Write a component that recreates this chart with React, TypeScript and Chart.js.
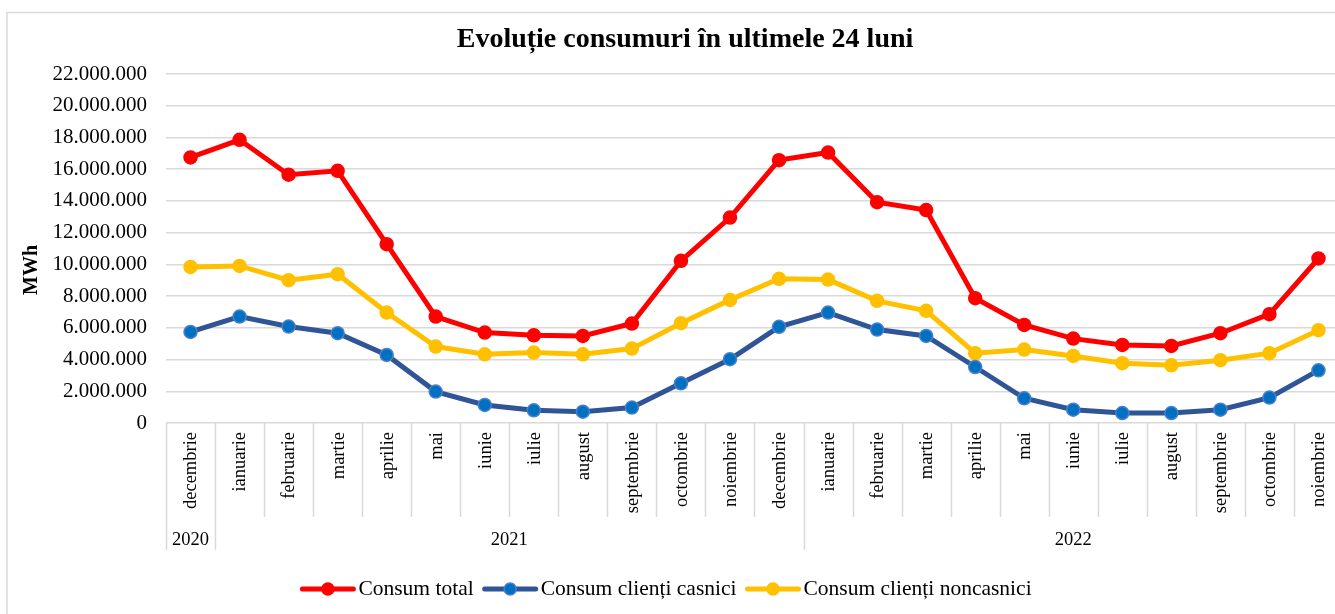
import React, { useEffect, useRef } from "react";
import { Chart, registerables } from "chart.js";

Chart.register(...registerables);

const months: string[] = [
  "decembrie", "ianuarie", "februarie", "martie", "aprilie", "mai", "iunie", "iulie",
  "august", "septembrie", "octombrie", "noiembrie", "decembrie", "ianuarie", "februarie",
  "martie", "aprilie", "mai", "iunie", "iulie", "august", "septembrie", "octombrie", "noiembrie",
];
const yearLabels: string[] = ["2020", "2021", "2022"];
const yearSpans: number[] = [1, 12, 11];

const consumTotal: number[] = [
  16740000, 17850000, 15650000, 15900000, 11270000, 6710000, 5700000, 5530000,
  5490000, 6270000, 10220000, 12950000, 16570000, 17050000, 13920000, 13420000,
  7870000, 6180000, 5320000, 4920000, 4860000, 5660000, 6860000, 10370000,
];
const consumCasnici: number[] = [
  5740000, 6710000, 6080000, 5660000, 4290000, 1980000, 1140000, 800000,
  710000, 970000, 2500000, 4020000, 6060000, 6960000, 5890000, 5490000,
  3530000, 1560000, 840000, 630000, 630000, 840000, 1600000, 3320000,
];
const consumNoncasnici: number[] = [
  9840000, 9900000, 9000000, 9380000, 6960000, 4820000, 4330000, 4440000,
  4330000, 4690000, 6290000, 7760000, 9090000, 9040000, 7700000, 7070000,
  4400000, 4630000, 4230000, 3770000, 3640000, 3960000, 4400000, 5850000,
];

const seriesNames: string[] = ["Consum total", "Consum clienți casnici", "Consum clienți noncasnici"];

const yMax = 22000000;
const yStep = 2000000;

const SERIF = "'Liberation Serif', 'Times New Roman', serif";
const GRID = "#d9d9d9";

function fmt(v: number): string {
  return Math.round(v).toString().replace(/\B(?=(\d{3})+(?!\d))/g, ".");
}

const decorPlugin = {
  id: "decor",
  beforeDraw(chart: any) {
    const ctx = chart.ctx;
    ctx.save();
    ctx.fillStyle = "#ffffff";
    ctx.fillRect(0, 0, chart.width, chart.height);
    ctx.strokeStyle = GRID;
    ctx.lineWidth = 1.5;
    ctx.strokeRect(7, 12.5, chart.width + 50, chart.height + 50);
    ctx.restore();
  },
  afterDraw(chart: any) {
    const ctx = chart.ctx;
    const xs = chart.scales.x;
    const area = chart.chartArea;
    const n = months.length;
    const bottom = area.bottom;
    const cw = (xs.getPixelForValue(1) - xs.getPixelForValue(0));
    const boundary = (i: number) => xs.getPixelForValue(0) - cw / 2 + i * cw;

    ctx.save();
    // title
    ctx.fillStyle = "#000";
    ctx.font = `bold 28px ${SERIF}`;
    ctx.textAlign = "center";
    ctx.textBaseline = "alphabetic";
    ctx.fillText("Evoluție consumuri în ultimele 24 luni", 685, 47);

    // y axis title
    ctx.save();
    ctx.translate(32, 270);
    ctx.rotate(-Math.PI / 2);
    ctx.font = `bold 20px ${SERIF}`;
    ctx.textAlign = "center";
    ctx.textBaseline = "middle";
    ctx.fillText("MWh", 0, 0);
    ctx.restore();

    // separators
    const yearBounds = new Set<number>();
    let acc = 0;
    yearBounds.add(0);
    yearSpans.forEach((s) => { acc += s; yearBounds.add(acc); });
    ctx.strokeStyle = GRID;
    ctx.lineWidth = 1.5;
    for (let i = 0; i <= n; i++) {
      const x = Math.round(boundary(i)) + 0.5;
      ctx.beginPath();
      ctx.moveTo(x, bottom);
      ctx.lineTo(x, yearBounds.has(i) ? 550 : 517);
      ctx.stroke();
    }

    // month labels
    ctx.fillStyle = "#000";
    ctx.font = `18.5px ${SERIF}`;
    for (let i = 0; i < n; i++) {
      const x = xs.getPixelForValue(i);
      ctx.save();
      ctx.translate(x + 1, 432);
      ctx.rotate(-Math.PI / 2);
      ctx.textAlign = "right";
      ctx.textBaseline = "middle";
      ctx.fillText(months[i], 0, 0);
      ctx.restore();
    }

    // year labels
    ctx.textAlign = "center";
    ctx.textBaseline = "alphabetic";
    acc = 0;
    yearLabels.forEach((lab, k) => {
      const x0 = boundary(acc);
      const x1 = boundary(acc + yearSpans[k]);
      ctx.fillText(lab, (x0 + x1) / 2, 545);
      acc += yearSpans[k];
    });

    // legend
    ctx.font = `21.5px ${SERIF}`;
    const lineLen = 55;
    const textGap = 3;
    const itemGap = 9;
    const widths = chart.data.datasets.map((d: any) => lineLen + textGap + ctx.measureText(d.label).width);
    const total = widths.reduce((a: number, b: number) => a + b, 0) + itemGap * (widths.length - 1);
    let lx = 666 - total / 2;
    const ly = 589;
    chart.data.datasets.forEach((d: any, k: number) => {
      ctx.strokeStyle = d.borderColor;
      ctx.lineWidth = 5;
      ctx.lineCap = "round";
      ctx.beginPath();
      ctx.moveTo(lx + 2, ly);
      ctx.lineTo(lx + lineLen - 2, ly);
      ctx.stroke();
      ctx.beginPath();
      ctx.arc(lx + lineLen / 2, ly, 6, 0, Math.PI * 2);
      ctx.fillStyle = d.pointBackgroundColor;
      ctx.fill();
      ctx.lineWidth = 1.5;
      ctx.strokeStyle = d.pointBorderColor;
      ctx.stroke();
      ctx.fillStyle = "#000";
      ctx.textAlign = "left";
      ctx.textBaseline = "middle";
      ctx.fillText(d.label, lx + lineLen + textGap, ly);
      lx += widths[k] + itemGap;
    });
    ctx.restore();
  },
};

export default function App() {
  const ref = useRef<HTMLCanvasElement | null>(null);

  useEffect(() => {
    if (!ref.current) return;
    const chart = new Chart(ref.current, {
      type: "line",
      data: {
        labels: months,
        datasets: [
          {
            label: seriesNames[0],
            data: consumTotal,
            borderColor: "#ff0000",
            backgroundColor: "#ff0000",
            pointBackgroundColor: "#ff0000",
            pointBorderColor: "#ff0000",
            borderWidth: 5,
            pointRadius: 6.5,
            pointBorderWidth: 1.5,
            tension: 0,
          },
          {
            label: seriesNames[1],
            data: consumCasnici,
            borderColor: "#2f5597",
            backgroundColor: "#2f5597",
            pointBackgroundColor: "#0070c0",
            pointBorderColor: "#4a7fcc",
            borderWidth: 5,
            pointRadius: 6.5,
            pointBorderWidth: 1.5,
            tension: 0,
          },
          {
            label: seriesNames[2],
            data: consumNoncasnici,
            borderColor: "#ffc000",
            backgroundColor: "#ffc000",
            pointBackgroundColor: "#ffc000",
            pointBorderColor: "#ffc000",
            borderWidth: 5,
            pointRadius: 6.5,
            pointBorderWidth: 1.5,
            tension: 0,
          },
        ],
      },
      options: {
        responsive: false,
        animation: false,
        events: [],
        layout: { padding: { top: 74, bottom: 191, left: 0, right: 12 } },
        plugins: {
          legend: { display: false },
          title: { display: false },
          tooltip: { enabled: false },
        },
        scales: {
          x: {
            type: "category",
            display: false,
            offset: true,
          },
          y: {
            min: 0,
            max: yMax,
            afterFit: (scale: any) => { scale.width = 166; },
            ticks: {
              stepSize: yStep,
              padding: 19,
              color: "#000",
              font: { family: SERIF, size: 21 },
              callback: (v: any) => fmt(Number(v)),
            },
            grid: { color: GRID, lineWidth: 1.5, drawTicks: false },
            border: { display: false },
          },
        },
      },
      plugins: [decorPlugin],
    });
    return () => chart.destroy();
  }, []);

  return (
    <div style={{ position: "absolute", left: 0, top: 0, width: 1335, height: 614, overflow: "hidden", background: "#fff" }}>
      <canvas ref={ref} width={1355} height={614} style={{ display: "block", width: 1355, height: 614 }} />
    </div>
  );
}
